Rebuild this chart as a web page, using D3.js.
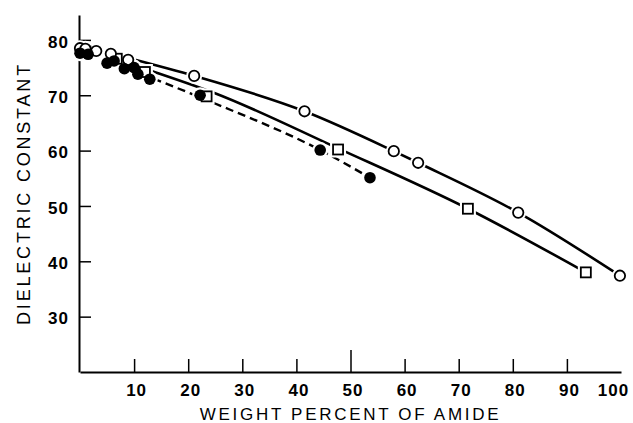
<!DOCTYPE html>
<html>
<head>
<meta charset="utf-8">
<script src="https://cdn.jsdelivr.net/npm/d3@7"></script>
<style>
  body { margin: 0; background: #fff; }
  svg { display: block; font-family: "Liberation Sans", Arial, sans-serif; }
  .axis path, .axis line { stroke: #000; }
  .axis text { fill: #000; font-size: 17px; font-weight: bold; letter-spacing: 1px; }
</style>
</head>
<body>
<div id="chart"></div>
<script>
var width = 633,
    height = 423;

// values: [weight % amide, dielectric constant]
var openCircles = [[0, 78.5], [1.0, 78.4], [3.0, 78.0], [5.7, 77.5], [8.9, 76.4],
    [21.1, 73.5], [41.5, 67.1], [58, 59.9], [62.5, 57.8], [81, 48.8], [99.8, 37.4]];
var openSquares = [[1.0, 77.9], [6.8, 76.6], [12, 74.2], [23.4, 69.8], [47.7, 60.2],
    [71.7, 49.5], [93.5, 38.0]];
var filledCircles = [[0, 77.6], [1.5, 77.4], [5, 75.8], [6.3, 76.2], [8.2, 74.8],
    [10, 75.0], [10.7, 73.8], [12.9, 72.9], [22.2, 70.0], [44.4, 60.1], [53.6, 55.1]];

// fitted curves, as traced on the picture
var circleCurve = [[9.8, 76.5], [21.1, 73.5], [41.5, 67.1], [58, 59.9], [62.5, 57.8], [81, 48.8], [99.8, 37.4]];
var squareCurve = [[13.2, 74.4], [24.6, 70.5], [47.7, 60.4], [71.7, 49.5], [93.5, 38.0]];
var dashedCurve = [[13.6, 73.0], [24, 68.9], [44.4, 60.1], [53.6, 55.1]];

var xTicks = [10, 20, 30, 40, 50, 60, 70, 80, 90, 100];
var yTicks = [30, 40, 50, 60, 70, 80];

var x = d3.scaleLinear().domain([0, 100]).range([80, 621]);
var y = d3.scaleLinear().domain([20, 84.5]).range([372, 15]);

var svg = d3.select("#chart").append("svg")
    .attr("width", width)
    .attr("height", height);

// axes, ticks pointing inwards
var xAxis = svg.append("g")
    .attr("class", "axis")
    .attr("transform", "translate(0," + y(20) + ")")
    .call(d3.axisBottom(x).tickValues(xTicks).tickSizeInner(-13).tickSizeOuter(0).tickPadding(12));
xAxis.select(".domain").attr("stroke-width", 2);
xAxis.selectAll(".tick line").attr("stroke-width", 1.5)
    .attr("y2", function (d) { return d === 50 ? -22 : -13; })
    .attr("display", function (d) { return d === 100 ? "none" : null; });
xAxis.selectAll(".tick text").attr("dx", function (d) { return d === 100 ? -8 : 2; });

var yAxis = svg.append("g")
    .attr("class", "axis")
    .attr("transform", "translate(" + (x(0) - 1) + ",0)")
    .call(d3.axisLeft(y).tickValues(yTicks).tickSizeInner(-12).tickSizeOuter(0).tickPadding(10));
yAxis.select(".domain").attr("stroke-width", 2);
yAxis.selectAll(".tick line").attr("stroke-width", 1.5);
yAxis.selectAll(".tick text").attr("dy", "0.42em");

// axis titles
svg.append("text")
    .attr("x", (x(0) + x(100)) / 2)
    .attr("y", 420)
    .attr("text-anchor", "middle")
    .style("font-size", "17px")
    .style("letter-spacing", "2.7px")
    .text("WEIGHT PERCENT OF AMIDE");

svg.append("text")
    .attr("transform", "translate(30," + (y(20) + y(84.5)) / 2 + ") rotate(-90)")
    .attr("text-anchor", "middle")
    .style("font-size", "18px")
    .style("letter-spacing", "2.8px")
    .text("DIELECTRIC CONSTANT");

// curves
var line = d3.line()
    .x(function (d) { return x(d[0]); })
    .y(function (d) { return y(d[1]); })
    .curve(d3.curveMonotoneX);

svg.append("path").datum(circleCurve)
    .attr("d", line).attr("fill", "none").attr("stroke", "#000").attr("stroke-width", 2.6);
svg.append("path").datum(squareCurve)
    .attr("d", line).attr("fill", "none").attr("stroke", "#000").attr("stroke-width", 2.6);
svg.append("path").datum(dashedCurve)
    .attr("d", line).attr("fill", "none").attr("stroke", "#000").attr("stroke-width", 2.4)
    .attr("stroke-dasharray", "8,5");

// white halos so lines stop short of the markers
var halos = svg.append("g");
halos.selectAll("circle")
    .data(openCircles.concat(filledCircles))
    .enter().append("circle")
    .attr("cx", function (d) { return x(d[0]); })
    .attr("cy", function (d) { return y(d[1]); })
    .attr("r", 8)
    .attr("fill", "#fff");
halos.selectAll("rect")
    .data(openSquares)
    .enter().append("rect")
    .attr("x", function (d) { return x(d[0]) - 8; })
    .attr("y", function (d) { return y(d[1]) - 8; })
    .attr("width", 16).attr("height", 16)
    .attr("fill", "#fff");

// markers
var marks = svg.append("g");
marks.selectAll("rect")
    .data(openSquares)
    .enter().append("rect")
    .attr("x", function (d) { return x(d[0]) - 5; })
    .attr("y", function (d) { return y(d[1]) - 5; })
    .attr("width", 10).attr("height", 10)
    .attr("fill", "#fff").attr("stroke", "#000").attr("stroke-width", 1.8);
marks.selectAll("circle.open")
    .data(openCircles)
    .enter().append("circle")
    .attr("class", "open")
    .attr("cx", function (d) { return x(d[0]); })
    .attr("cy", function (d) { return y(d[1]); })
    .attr("r", 5.2)
    .attr("fill", "#fff").attr("stroke", "#000").attr("stroke-width", 1.8);
marks.selectAll("circle.filled")
    .data(filledCircles)
    .enter().append("circle")
    .attr("class", "filled")
    .attr("cx", function (d) { return x(d[0]); })
    .attr("cy", function (d) { return y(d[1]); })
    .attr("r", 5.8)
    .attr("fill", "#000");
</script>
</body>
</html>
